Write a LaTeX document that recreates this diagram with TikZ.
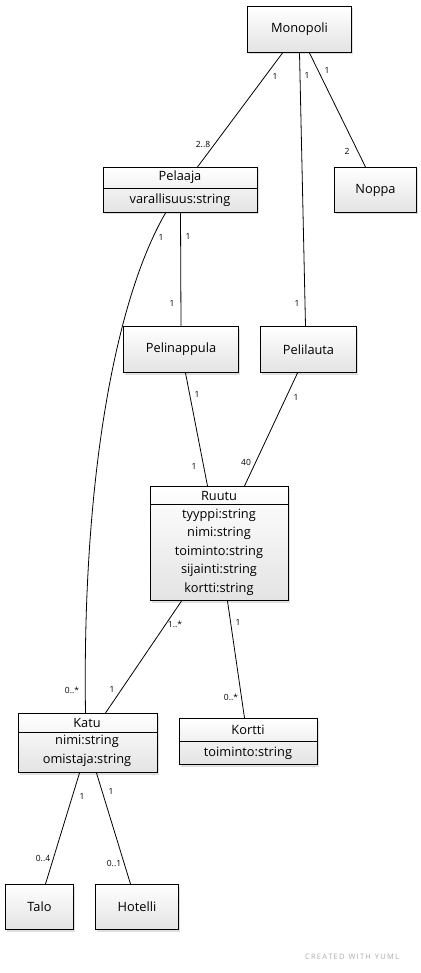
\documentclass[tikz,border=0pt]{standalone}
\usepackage{fontspec}
\setmainfont{Open Sans}
\usetikzlibrary{shadows}
\tikzset{
  box/.style={draw=black, line width=1pt, top color=white, bottom color=gray!22,
    drop shadow={shadow xshift=1.5pt, shadow yshift=-2pt, opacity=0.25},
    inner sep=0pt, anchor=north west},
  txt/.style={font=\fontsize{12.8}{18.5}\selectfont, inner sep=0pt, align=center},
  lbl/.style={font=\fontsize{8.5}{10}\selectfont, inner sep=0pt},
  conn/.style={line width=0.8pt},
  sep/.style={line width=0.8pt}
}
\begin{document}
\begin{tikzpicture}[x=1pt,y=-1pt]
\useasboundingbox (0,0) rectangle (420,973);
\fill[white] (0,0) rectangle (420,973);

% simple boxes
\node[box, minimum width=104pt, minimum height=46pt] (monopoli) at (247,6) {};
\node[txt] (tmonopoli) at (monopoli.center) {Monopoli};
\node[box, minimum width=82pt, minimum height=45pt] (noppa) at (334,167) {};
\node[txt] (tnoppa) at (noppa.center) {Noppa};
\node[box, minimum width=115pt, minimum height=46pt] (pelinappula) at (123,326) {};
\node[txt] (tpelinappula) at (pelinappula.center) {Pelinappula};
\node[box, minimum width=96pt, minimum height=46pt] (pelilauta) at (260,326) {};
\node[txt] (tpelilauta) at (pelilauta.center) {Pelilauta};
\node[box, minimum width=68pt, minimum height=45pt] (talo) at (5,884) {};
\node[txt] (ttalo) at (talo.center) {Talo};
\node[box, minimum width=83pt, minimum height=45pt] (hotelli) at (95,884) {};
\node[txt] (thotelli) at (hotelli.center) {Hotelli};

% class boxes with compartments
\node[box, minimum width=154pt, minimum height=45pt] (pelaaja) at (103,167) {};
\draw[sep] ([yshift=-21pt]pelaaja.north west) -- ([yshift=-21pt]pelaaja.north east);
\node[txt] (tpelaaja) at (180,177.5) {Pelaaja};
\node[txt] (apelaaja) at (180,200) {varallisuus:string};

\node[box, minimum width=138pt, minimum height=114pt] (ruutu) at (150,486) {};
\draw[sep] ([yshift=-18pt]ruutu.north west) -- ([yshift=-18pt]ruutu.north east);
\node[txt] (truutu) at (219,495.5) {Ruutu};
\node[txt] (aruutu) at (219,552) {tyyppi:string\\nimi:string\\toiminto:string\\sijainti:string\\kortti:string};

\node[box, minimum width=139pt, minimum height=59pt] (katu) at (18,713) {};
\draw[sep] ([yshift=-19pt]katu.north west) -- ([yshift=-19pt]katu.north east);
\node[txt] (tkatu) at (87,722.5) {Katu};
\node[txt] (akatu) at (87,751) {nimi:string\\omistaja:string};

\node[box, minimum width=138pt, minimum height=46pt] (kortti) at (179,718) {};
\draw[sep] ([yshift=-23pt]kortti.north west) -- ([yshift=-23pt]kortti.north east);
\node[txt] (tkortti) at (248,729.5) {Kortti};
\node[txt] (akortti) at (248,753) {toiminto:string};

% connectors
\draw[conn] ([xshift=-17pt]monopoli.south) -- ([xshift=17pt]pelaaja.north);
\draw[conn] ([xshift=0pt]monopoli.south) -- ([xshift=-3pt]pelilauta.north);
\draw[conn] ([xshift=10pt]monopoli.south) -- ([xshift=-10pt]noppa.north);
\draw[conn] ([xshift=0pt]pelaaja.south) -- ([xshift=0pt]pelinappula.north);
\draw[conn] ([xshift=-15pt]pelaaja.south) .. controls (115,300) and (82,480) .. ([xshift=-2.5pt]katu.north);
\draw[conn] ([xshift=4.5pt]pelinappula.south) -- ([xshift=-12pt]ruutu.north);
\draw[conn] ([xshift=-11pt]pelilauta.south) -- ([xshift=25pt]ruutu.north);
\draw[conn] ([xshift=-38pt]ruutu.south) -- ([xshift=17.5pt]katu.north);
\draw[conn] ([xshift=8pt]ruutu.south) -- ([xshift=-4pt]kortti.north);
\draw[conn] ([xshift=-8.5pt]katu.south) -- ([xshift=6pt]talo.north);
\draw[conn] ([xshift=8.5pt]katu.south) -- ([xshift=-6.5pt]hotelli.north);

% multiplicity labels
\node[lbl] (l1) at (275,76) {1};
\node[lbl] (l2) at (203,144) {2..8};
\node[lbl] (l3) at (307,75) {1};
\node[lbl] (l4) at (297,303) {1};
\node[lbl] (l5) at (327,70) {1};
\node[lbl] (l6) at (347,151) {2};
\node[lbl] (l7) at (188,236) {1};
\node[lbl] (l8) at (172,303) {1};
\node[lbl] (l9) at (161,237) {1};
\node[lbl] (l10) at (72,690) {0..*};
\node[lbl] (l11) at (197,394) {1};
\node[lbl] (l12) at (194,466) {1};
\node[lbl] (l13) at (296,397) {1};
\node[lbl] (l14) at (246,462) {40};
\node[lbl] (l15) at (175,624) {1..*};
\node[lbl] (l16) at (112,689) {1};
\node[lbl] (l17) at (238,622) {1};
\node[lbl] (l18) at (231,697) {0..*};
\node[lbl] (l19) at (82,796) {1};
\node[lbl] (l20) at (43,858) {0..4};
\node[lbl] (l21) at (111,791) {1};
\node[lbl] (l22) at (114,863) {0..1};

\node[font=\fontsize{7.5}{9}\selectfont, text=gray!65, inner sep=0pt] (credit) at (352,957) {C\,R\,E\,A\,T\,E\,D\ \ W\,I\,T\,H\ \ Y\,U\,M\,L};
\end{tikzpicture}
\end{document}
